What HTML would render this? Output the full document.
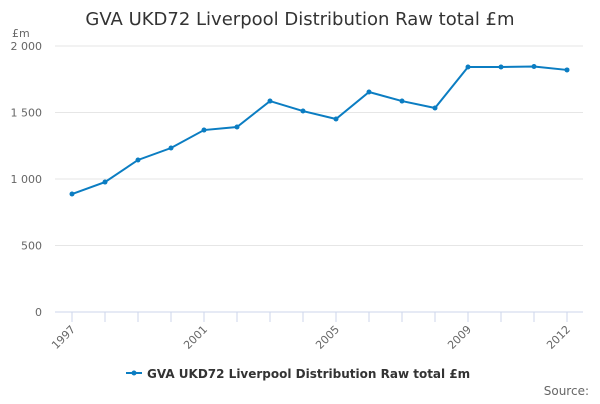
<!DOCTYPE html>
<html><head><meta charset="utf-8"><style>
body{margin:0;background:#fff;width:600px;height:400px;overflow:hidden;font-family:"DejaVu Sans","Liberation Sans",sans-serif;}
</style></head><body>
<svg width="600" height="400" id="c">
<text x="300" y="25" text-anchor="middle" font-size="18" fill="#333">GVA UKD72 Liverpool Distribution Raw total £m</text>
<text x="12" y="37" font-size="11" fill="#666">£m</text>
<g id="grid"></g><g id="xt"></g><g id="series"></g>
<g>
<line x1="126" y1="373" x2="142" y2="373" stroke="#0b7dc2" stroke-width="2"/>
<circle cx="134" cy="373" r="2.5" fill="#0b7dc2"/>
<text x="147" y="378" font-size="12" font-weight="bold" fill="#333">GVA UKD72 Liverpool Distribution Raw total £m</text>
</g>
<text x="589" y="395" text-anchor="end" font-size="12" fill="#666">Source:</text>
</svg>
<script>
const years=[1997,1998,1999,2000,2001,2002,2003,2004,2005,2006,2007,2008,2009,2010,2011,2012];
const values=[887,977,1143,1233,1368,1391,1586,1511,1451,1654,1586,1534,1842,1842,1846,1820];
const yTicks=[0,500,1000,1500,2000];
const yTickLabels=["0","500","1 000","1 500","2 000"];
const xLabelYears=[1997,2001,2005,2009,2012];
const NS="http://www.w3.org/2000/svg";
const X=y=>72+(y-1997)*33;
const Y=v=>312-v*0.133;
function mk(t,a,p){const e=document.createElementNS(NS,t);for(const k in a)e.setAttribute(k,a[k]);p.appendChild(e);return e;}
const g=document.getElementById('grid');
yTicks.forEach((v,i)=>{
 const l=mk('line',{x1:55,x2:583,y1:Y(v),y2:Y(v),stroke:v===0?'#ccd6eb':'#e6e6e6'},g);
 
 
 const t=mk('text',{x:42,y:Y(v)+4,'text-anchor':'end','font-size':11,fill:'#666'},g);
 t.textContent=yTickLabels[i];
 
 
});
const xt=document.getElementById('xt');
years.forEach(y=>{
 const l=mk('line',{x1:X(y),x2:X(y),y1:312,y2:322,stroke:'#ccd6eb'},xt);
 
 
});
xLabelYears.forEach(y=>{
 const t=mk('text',{x:X(y)+4,y:330,'text-anchor':'end','font-size':11,fill:'#666',transform:`rotate(-45 ${X(y)+4} 330)`},xt);
 t.textContent=y;
 
 
});
const s=document.getElementById('series');
const p=mk('polyline',{points:years.map((y,i)=>X(y)+','+Y(values[i])).join(' '),fill:'none',stroke:'#0b7dc2','stroke-width':2},s);


years.forEach((y,i)=>{
 const c=mk('circle',{cx:X(y),cy:Y(values[i]),r:2.5,fill:'#0b7dc2'},s);
 
 
});
</script>
</body></html>
